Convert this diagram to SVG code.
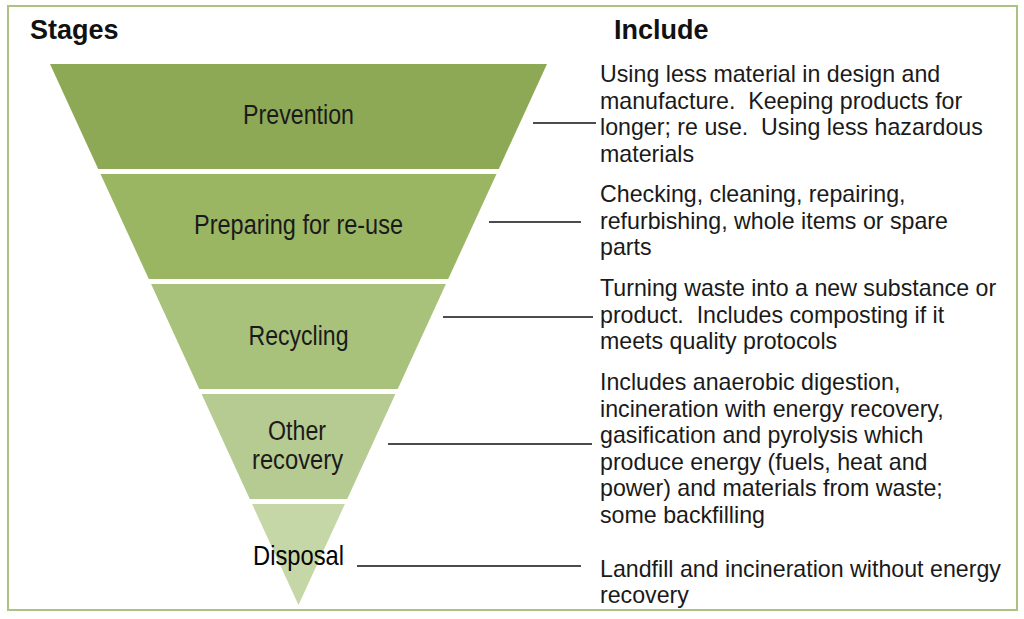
<svg xmlns="http://www.w3.org/2000/svg" width="1024" height="619" viewBox="0 0 1024 619">
<style>
.hdr{font-family:"Liberation Sans",Arial,sans-serif;font-size:27px;font-weight:bold;fill:#111}
.desc{font-family:"Liberation Sans",Arial,sans-serif;font-size:23.2px;fill:#1a1a1a;white-space:pre}
.lbl{font-family:"Liberation Sans",Arial,sans-serif;font-size:27px;fill:#1a1a1a;text-anchor:middle}
.conn{stroke:#111;stroke-width:1.6;fill:none}
</style>
<rect width="1024" height="619" fill="#ffffff"/>
<rect x="8" y="6" width="1009" height="604" fill="none" stroke="#abc282" stroke-width="2"/>
<text class="hdr" x="30" y="39">Stages</text>
<text class="hdr" x="614" y="39">Include</text>
<g id="prevention">
<polygon points="50,64 547,64 498.8,169 98.2,169" fill="#8ea955"/>
<text class="lbl" x="298.5" y="124" textLength="111" lengthAdjust="spacingAndGlyphs">Prevention</text>
</g>
<g id="preparing">
<polygon points="100.5,174 496.5,174 448.2,279 148.8,279" fill="#9bb663"/>
<text class="lbl" x="298.5" y="234" textLength="209" lengthAdjust="spacingAndGlyphs">Preparing for re-use</text>
</g>
<g id="recycling">
<polygon points="151.1,284 445.9,284 397.7,389 199.3,389" fill="#a8c17b"/>
<text class="lbl" x="298.5" y="345" textLength="100" lengthAdjust="spacingAndGlyphs">Recycling</text>
</g>
<g id="other-recovery">
<polygon points="201.6,394 395.4,394 347.2,499 249.8,499" fill="#b6cb91"/>
<text class="lbl" x="297" y="440" textLength="58" lengthAdjust="spacingAndGlyphs">Other</text>
<text class="lbl" x="297.5" y="469" textLength="91" lengthAdjust="spacingAndGlyphs">recovery</text>
</g>
<g id="disposal">
<polygon points="252.1,504 344.9,504 298.5,605" fill="#c5d7a7"/>
<text class="lbl" x="298.5" y="565" style="fill:#050505;font-size:28px" textLength="91" lengthAdjust="spacingAndGlyphs">Disposal</text>
</g>
<g id="connectors">
<line class="conn" x1="533" y1="123" x2="596" y2="123"/>
<line class="conn" x1="489" y1="222" x2="581" y2="222"/>
<line class="conn" x1="443" y1="317" x2="593" y2="317"/>
<line class="conn" x1="388" y1="444" x2="592" y2="444"/>
<line class="conn" x1="357" y1="566" x2="581" y2="566"/>
</g>
<g id="desc-prevention">
<text class="desc" x="600" y="82">Using less material in design and</text>
<text class="desc" x="600" y="108.5">manufacture.  Keeping products for</text>
<text class="desc" x="600" y="135">longer; re use.  Using less hazardous</text>
<text class="desc" x="600" y="161.5">materials</text>
</g>
<g id="desc-preparing">
<text class="desc" x="600" y="202">Checking, cleaning, repairing,</text>
<text class="desc" x="600" y="228.5">refurbishing, whole items or spare</text>
<text class="desc" x="600" y="255">parts</text>
</g>
<g id="desc-recycling">
<text class="desc" x="600" y="296">Turning waste into a new substance or</text>
<text class="desc" x="600" y="322.5">product.  Includes composting if it</text>
<text class="desc" x="600" y="349">meets quality protocols</text>
</g>
<g id="desc-other">
<text class="desc" x="600" y="390">Includes anaerobic digestion,</text>
<text class="desc" x="600" y="416.5">incineration with energy recovery,</text>
<text class="desc" x="600" y="443">gasification and pyrolysis which</text>
<text class="desc" x="600" y="469.5">produce energy (fuels, heat and</text>
<text class="desc" x="600" y="496">power) and materials from waste;</text>
<text class="desc" x="600" y="522.5">some backfilling</text>
</g>
<g id="desc-disposal">
<text class="desc" x="600" y="577">Landfill and incineration without energy</text>
<text class="desc" x="600" y="603">recovery</text>
</g>
</svg>
